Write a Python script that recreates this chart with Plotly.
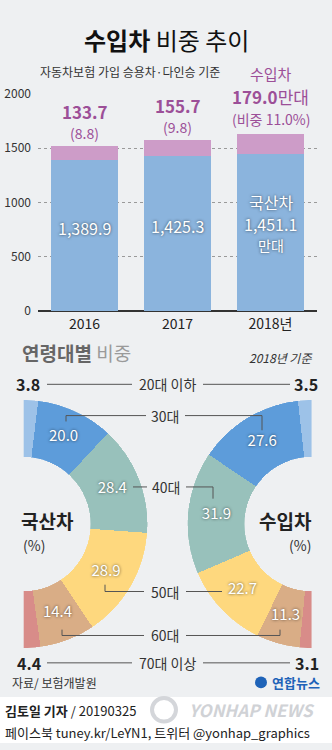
import plotly.graph_objects as go

W, H = 332, 750
FONT = "Noto Sans CJK KR"

# ---- data -------------------------------------------------------------
years = ["2016", "2017", "2018"]
year_ticks = ["2016", "2017", "2018년"]
domestic = [1389.9, 1425.3, 1451.1]        # 국산차, 만대
imported = [133.7, 155.7, 179.0]           # 수입차, 만대
import_share = [8.8, 9.8, 11.0]            # 수입차 비중, %

age_groups = ["20대 이하", "30대", "40대", "50대", "60대", "70대 이상"]
domestic_age = [3.8, 20.0, 28.4, 28.9, 14.4, 4.4]   # 국산차, %
imported_age = [3.5, 27.6, 31.9, 22.7, 11.3, 3.1]   # 수입차, %

# ---- styles -----------------------------------------------------------
BG = "#eef0f2"
BLUE_BAR = "#8bb4dd"
PINK_BAR = "#cd9cc8"
PURPLE = "#9c4f98"
DARK = "#222222"
LINE = "#555555"
age_colors = ["#9dc2e8", "#5d9cda", "#98c1bb", "#fed87e", "#d9ad86", "#d88c89"]
SHADOW = "0px 0px 3px rgba(0,0,0,0.65)"


def px(x):
    return x / W


def py(y):
    return 1 - y / H


def ring_angles(vals):
    total = sum(vals)
    widths = [v / total * 180 for v in vals]
    mids, acc = [], 0.0
    for w in widths:
        mids.append(acc + w / 2)
        acc += w
    return mids, widths


fig = go.Figure()

# ---- stacked bars -----------------------------------------------------
fig.add_trace(go.Bar(x=years, y=domestic, marker_color=BLUE_BAR, width=0.72,
                     marker_line_width=0, hoverinfo="skip"))
fig.add_trace(go.Bar(x=years, y=imported, marker_color=PINK_BAR, width=0.72,
                     marker_line_width=0, hoverinfo="skip"))

# ---- half rings -------------------------------------------------------
for vals, subplot in [(domestic_age, "polar"), (imported_age, "polar2")]:
    mids, widths = ring_angles(vals)
    fig.add_trace(go.Barpolar(r=[1] * len(vals), theta=mids, width=widths,
                              marker_color=age_colors, marker_line_width=0,
                              subplot=subplot, hoverinfo="skip"))
    inner_text = [f"{v:.1f}" if 0 < i < len(vals) - 1 else ""
                  for i, v in enumerate(vals)]
    fig.add_trace(go.Scatterpolar(r=[0.5] * len(vals), theta=mids, mode="text",
                                  text=inner_text, subplot=subplot,
                                  textfont=dict(family=FONT, size=15, color="white",
                                                shadow=SHADOW),
                                  hoverinfo="skip"))

annotations = []
shapes = []


def text(x, y, s, size, color=DARK, anchor="center", **kw):
    annotations.append(dict(x=px(x), y=py(y), xref="paper", yref="paper", text=s,
                            showarrow=False, xanchor=anchor, yanchor="middle",
                            font=dict(family=FONT, size=size, color=color, **kw)))


def bar_label(i, yval, s, size, color, shift, anchor="middle", **kw):
    annotations.append(dict(x=i, y=yval, xref="x", yref="y", text=s, showarrow=False,
                            yanchor=anchor, yshift=shift,
                            font=dict(family=FONT, size=size, color=color, **kw)))


def hline(x0, x1, y):
    shapes.append(dict(type="line", xref="paper", yref="paper", x0=px(x0), x1=px(x1),
                       y0=py(y), y1=py(y), line=dict(color=LINE, width=1)))


def vline(x, y0, y1):
    shapes.append(dict(type="line", xref="paper", yref="paper", x0=px(x), x1=px(x),
                       y0=py(y0), y1=py(y1), line=dict(color=LINE, width=1)))


# footer background
shapes.append(dict(type="rect", xref="paper", yref="paper", x0=0, x1=1,
                   y0=0, y1=py(703), fillcolor="white", line_width=0, layer="below"))

# ---- titles -----------------------------------------------------------
text(166, 30, "<b>수입차</b> 비중 추이", 24, color="#111111")
text(38, 63, "자동차보험 가입 승용차·다인승 기준", 12, color="#333333", anchor="left")

# ---- bar value labels -------------------------------------------------
for i in range(len(years)):
    total = domestic[i] + imported[i]
    if i < 2:
        bar_label(i, total, f"({import_share[i]:.1f})", 14, PURPLE, 1, "bottom")
        bar_label(i, total, f"<b>{imported[i]:.1f}</b>", 17, PURPLE, 20, "bottom")
        bar_label(i, domestic[i] / 2, f"{domestic[i]:,.1f}", 16, "white", 8, shadow=SHADOW)
    else:
        bar_label(i, total, f"(비중 {import_share[i]:.1f}%)", 14, PURPLE, 3, "bottom")
        bar_label(i, total, f"<b>{imported[i]:.1f}</b>만대", 17, PURPLE, 23, "bottom")
        bar_label(i, total, "수입차", 15, PURPLE, 48, "bottom")
        bar_label(i, domestic[i] / 2, "국산차", 16, "white", 30, shadow=SHADOW)
        bar_label(i, domestic[i] / 2, f"{domestic[i]:,.1f}", 16, "white", 8, shadow=SHADOW)
        bar_label(i, domestic[i] / 2, "만대", 14, "white", -13, shadow=SHADOW)

# ---- age section ------------------------------------------------------
annotations.append(dict(x=px(20), y=py(350), xref="paper", yref="paper", showarrow=False,
                        xanchor="left", yanchor="middle",
                        text="<b>연령대별</b> <span style='color:#9a9a9a'>비중</span>",
                        font=dict(family=FONT, size=19, color="#666666")))
text(314, 356, "2018년 기준", 12, color="#333333", anchor="right", style="italic")

text(19, 522, "<b>국산차</b>", 19, anchor="left")
text(21, 547, "(%)", 14, color="#333333", anchor="left")
text(314, 522, "<b>수입차</b>", 19, anchor="right")
text(313, 547, "(%)", 14, color="#333333", anchor="right")

# row: 20대 이하
text(42, 383, f"<b>{domestic_age[0]:.1f}</b>", 16, anchor="right")
hline(47, 132, 383)
text(167, 383, age_groups[0], 14, color="#333333")
hline(203, 290, 383)
text(292, 383, f"<b>{imported_age[0]:.1f}</b>", 16, anchor="left")

# row: 30대
text(165, 415, age_groups[1], 14, color="#333333")
hline(66, 146, 415)
vline(66, 415, 421)
hline(185, 262, 415)
vline(262, 415, 430)

# row: 40대
text(166, 488, age_groups[2], 14, color="#333333")
hline(133, 147, 488)
hline(186, 213, 488)
vline(213, 488, 500)

# row: 50대
text(165, 595, age_groups[3], 14, color="#333333")
hline(105, 144, 595)
vline(105, 588, 595)
hline(186, 222, 595)

# row: 60대
text(165, 640, age_groups[4], 14, color="#333333")
hline(62, 144, 640)
vline(62, 634, 640)
hline(186, 280, 640)
vline(280, 634, 640)

# row: 70대 이상
text(43, 668, f"<b>{domestic_age[5]:.1f}</b>", 16, anchor="right")
hline(47, 132, 668)
text(167, 668, age_groups[5], 14, color="#333333")
hline(203, 290, 668)
text(293, 668, f"<b>{imported_age[5]:.1f}</b>", 16, anchor="left")

# ---- source & credits -------------------------------------------------
text(10, 688, "자료/ 보험개발원", 12, color="#333333", anchor="left")
shapes.append(dict(type="circle", xref="paper", yref="paper", x0=px(255), x1=px(267),
                   y0=py(694), y1=py(682), fillcolor="#1e63b8", line_width=0))
text(270, 688, "<b>연합뉴스</b>", 13, color="#1e63b8", anchor="left")

shapes.append(dict(type="circle", xref="paper", yref="paper", x0=px(152), x1=px(176),
                   y0=py(728), y1=py(704), fillcolor="rgba(0,0,0,0)",
                   line=dict(color="#d4d6da", width=4)))
text(252, 716, "<b><i>YONHAP NEWS</i></b>", 17, color="#d0d2d6")
text(3, 717, "<b>김토일 기자</b> / 20190325", 13, color="#222222", anchor="left")
text(3, 739, "페이스북 tuney.kr/LeYN1, 트위터 @yonhap_graphics", 13, color="#222222", anchor="left")

# ---- layout -----------------------------------------------------------
fig.update_layout(
    width=W, height=H, autosize=False,
    margin=dict(l=0, r=0, t=0, b=0),
    paper_bgcolor=BG, plot_bgcolor="rgba(0,0,0,0)",
    showlegend=False, barmode="stack",
    font=dict(family=FONT, color=DARK),
    xaxis=dict(type="category", domain=[px(38), px(317)], range=[-0.5, 2.5],
               tickvals=years, ticktext=year_ticks, showgrid=False, showline=False,
               ticks="", tickfont=dict(size=14, color=DARK), ticklabelstandoff=3,
               fixedrange=True),
    yaxis=dict(domain=[py(308), py(86)], range=[0, 2000],
               tickvals=[0, 500, 1000, 1500, 2000], showgrid=True,
               gridcolor="#9a9a9a", griddash="dot", gridwidth=1,
               zeroline=True, zerolinecolor="#333333", zerolinewidth=1.5,
               showline=False, ticks="", tickfont=dict(size=12, color="#333333"),
               ticklabelstandoff=6, fixedrange=True),
    polar=dict(domain=dict(x=[px(22), px(149)], y=[py(653), py(399)]),
               sector=[-90, 90], hole=0.54, bgcolor="rgba(0,0,0,0)",
               radialaxis=dict(visible=False, range=[0, 1]),
               angularaxis=dict(visible=False, rotation=90, direction="clockwise")),
    polar2=dict(domain=dict(x=[px(186), px(313)], y=[py(653), py(399)]),
                sector=[90, 270], hole=0.54, bgcolor="rgba(0,0,0,0)",
                radialaxis=dict(visible=False, range=[0, 1]),
                angularaxis=dict(visible=False, rotation=90, direction="counterclockwise")),
    annotations=annotations,
    shapes=shapes,
)

fig.write_html("out.html")
